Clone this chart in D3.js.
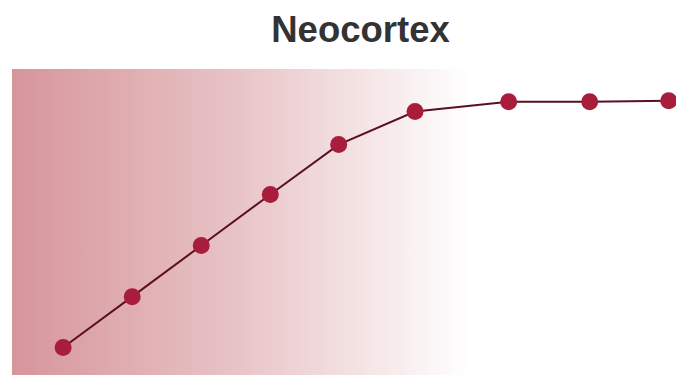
<!DOCTYPE html>
<html>
<head>
<meta charset="utf-8">
<script src="https://cdn.jsdelivr.net/npm/d3@7"></script>
<style>
  html, body { margin: 0; padding: 0; background: #fff; }
  svg { display: block; }
</style>
</head>
<body>
<svg id="chart" width="676" height="375"></svg>
<script>
// Developmental time (percent of span) and neocortex growth index
const stages = [7.7, 18.1, 28.5, 38.9, 49.2, 60.7, 74.8, 87.0, 98.9];
const growth = [9.0, 25.6, 42.3, 59.0, 75.3, 86.1, 89.3, 89.3, 89.6];
const shadedSpan = [0, 69.0];
const title = "Neocortex";

const width = 676, height = 375;
const svg = d3.select("#chart");

const x = d3.scaleLinear().domain([0, 100]).range([12, 676]);
const y = d3.scaleLinear().domain([0, 100]).range([375, 69]);

// Horizontal fade for the shaded period
const defs = svg.append("defs");
const grad = defs.append("linearGradient")
  .attr("id", "fade")
  .attr("x1", "0%").attr("x2", "100%")
  .attr("y1", "0%").attr("y2", "0%");
grad.append("stop").attr("offset", "0%").attr("stop-color", "#d6959a").attr("stop-opacity", 1);
grad.append("stop").attr("offset", "50%").attr("stop-color", "#d6959a").attr("stop-opacity", 0.55);
grad.append("stop").attr("offset", "100%").attr("stop-color", "#d6959a").attr("stop-opacity", 0);

svg.append("rect")
  .attr("x", x(shadedSpan[0]))
  .attr("y", y(100))
  .attr("width", x(shadedSpan[1]) - x(shadedSpan[0]))
  .attr("height", y(0) - y(100))
  .attr("fill", "url(#fade)");

const points = stages.map((s, i) => ({ s, g: growth[i] }));

svg.append("path")
  .datum(points)
  .attr("fill", "none")
  .attr("stroke", "#5c0f22")
  .attr("stroke-width", 2)
  .attr("d", d3.line().x(d => x(d.s)).y(d => y(d.g)));

svg.selectAll("circle.pt")
  .data(points)
  .join("circle")
  .attr("class", "pt")
  .attr("cx", d => x(d.s))
  .attr("cy", d => y(d.g))
  .attr("r", 8.5)
  .attr("fill", "#a81d3b");

svg.append("text")
  .attr("x", 360.5)
  .attr("y", 42)
  .attr("text-anchor", "middle")
  .attr("font-family", "Liberation Sans, Arial, sans-serif")
  .attr("font-weight", "bold")
  .attr("font-size", 36.5)
  .attr("fill", "#333333")
  .text(title);
</script>
</body>
</html>
